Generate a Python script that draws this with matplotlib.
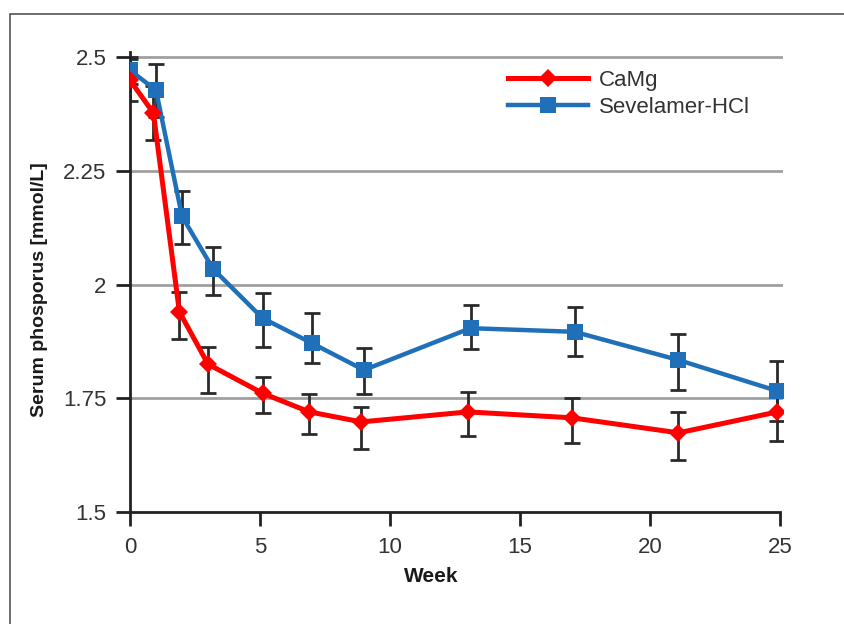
import numpy as np
import matplotlib
matplotlib.use("Agg")
import matplotlib.pyplot as plt
from matplotlib.patches import Rectangle

plt.rcParams['font.family'] = ['Liberation Sans', 'DejaVu Sans']

# CaMg (red diamonds)
camg_week = [0, 0.9, 1.9, 3.0, 5.1, 6.9, 8.9, 13.0, 17.0, 21.1, 24.9]
camg_val = [2.449, 2.377, 1.940, 1.825, 1.761, 1.720, 1.698, 1.720, 1.707, 1.674, 1.720]
camg_lo = [0.046, 0.059, 0.060, 0.064, 0.043, 0.049, 0.060, 0.053, 0.055, 0.060, 0.064]
camg_hi = [0.047, 0.059, 0.043, 0.038, 0.036, 0.039, 0.033, 0.044, 0.043, 0.046, 0.060]

# Sevelamer-HCl (blue squares)
sev_week = [0, 1.0, 2.0, 3.2, 5.1, 7.0, 9.0, 13.1, 17.1, 21.1, 24.9]
sev_val = [2.471, 2.427, 2.150, 2.034, 1.926, 1.871, 1.812, 1.904, 1.896, 1.834, 1.766]
sev_lo = [0.030, 0.058, 0.061, 0.057, 0.063, 0.044, 0.053, 0.046, 0.053, 0.065, 0.066]
sev_hi = [0.030, 0.058, 0.055, 0.048, 0.055, 0.066, 0.048, 0.051, 0.055, 0.057, 0.066]

yticks = [1.5, 1.75, 2, 2.25, 2.5]
ytick_labels = ["1.5", "1.75", "2", "2.25", "2.5"]
xticks = [0, 5, 10, 15, 20, 25]

red = "#ff0000"
blue = "#1f70b8"

fig = plt.figure(figsize=(8.45, 6.24), dpi=100)
ax = fig.add_axes([130 / 845, 112 / 624, 653 / 845, 460 / 624])

# outer frame, cut off at right and bottom like the original
fig.patches.append(Rectangle((10 / 845, -0.1), 1.2, 1.1 - 14 / 624,
                             transform=fig.transFigure, fill=False,
                             edgecolor="#555555", linewidth=1.2))

for y in yticks[1:]:
    ax.axhline(y, color="#a0a0a0", linewidth=2, zorder=1)

# error bars first, then lines + markers on top
ax.errorbar(camg_week, camg_val, yerr=[camg_lo, camg_hi], fmt="none",
            ecolor="#2a2a2a", elinewidth=2, capsize=6, capthick=2, zorder=2)
ax.errorbar(sev_week, sev_val, yerr=[sev_lo, sev_hi], fmt="none",
            ecolor="#2a2a2a", elinewidth=2, capsize=6, capthick=2, zorder=2)

ax.plot(sev_week, sev_val, color=blue, linewidth=3.2, marker="s",
        markersize=11, markeredgewidth=0, label="Sevelamer-HCl", zorder=3)
ax.plot(camg_week, camg_val, color=red, linewidth=3.6, marker="D",
        markersize=9.5, markeredgewidth=0, label="CaMg", zorder=4)

ax.set_xlim(0, 25.12)
ax.set_ylim(1.5, 2.511)
ax.set_xticks(xticks)
ax.set_yticks(yticks)
ax.set_yticklabels(ytick_labels)
ax.tick_params(axis="both", labelsize=16, labelcolor="#333333", color="#222222",
               length=10, width=2, pad=7)
ax.tick_params(axis="x", pad=8)

for s in ["top", "right"]:
    ax.spines[s].set_visible(False)
for s in ["left", "bottom"]:
    ax.spines[s].set_color("#222222")
    ax.spines[s].set_linewidth(2)
ax.spines["bottom"].set_bounds(0, 25)

handles, labels = ax.get_legend_handles_labels()
ax.legend(handles[::-1], labels[::-1], loc="upper left",
          bbox_to_anchor=(508 / 845, 1 - 70 / 624), bbox_transform=fig.transFigure,
          frameon=False, fontsize=16, handlelength=3.6, handletextpad=0.5,
          labelspacing=0.28, borderpad=0, borderaxespad=0, labelcolor="#333333")

fig.text(40 / 845, 1 - 290 / 624, "Serum phosporus [mmol/L]", rotation=90,
         ha="center", va="center", fontsize=14, fontweight="bold", color="#1a1a1a")
fig.text(431 / 845, 1 - 576 / 624, "Week", ha="center", va="center",
         fontsize=15, fontweight="bold", color="#1a1a1a")

fig.savefig("out.png", dpi=100)
